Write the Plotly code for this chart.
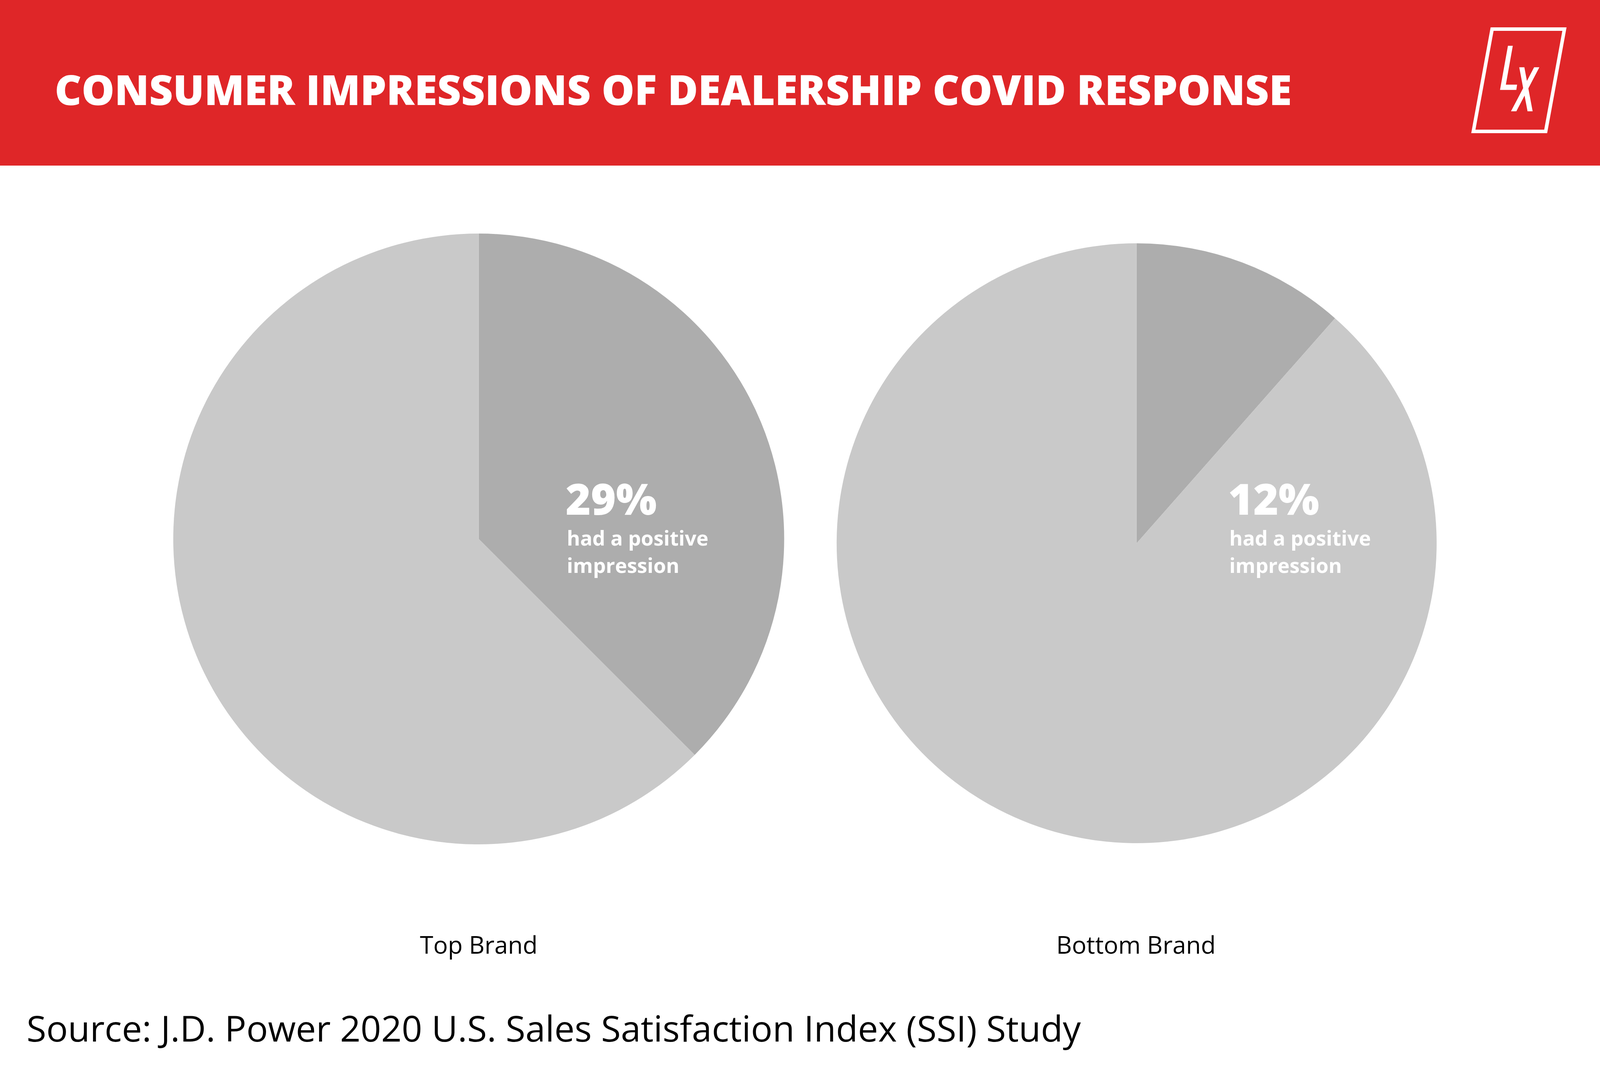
import plotly.graph_objects as go

# reference layout is 5000x2727; the browser viewport is 4096x2727, so the figure fills
# the viewport and every position is given as a fraction of the reference canvas
REF_W, REF_H = 5000, 2727
FIG_W, FIG_H = 4096, 2727

# data
slice_labels = ['Positive impression', 'Other']
top_brand_slices = [37.5, 62.5]      # drawn share of the dark slice (Top Brand)
bottom_brand_slices = [11.5, 88.5]   # drawn share of the dark slice (Bottom Brand)
brand_names = ['Top Brand', 'Bottom Brand']
brand_pcts = ['29%', '12%']

RED = '#DF2628'
DARK_GREY = '#ADADAD'
LIGHT_GREY = '#C9C9C9'
FONT = 'Open Sans'


def px(x, y):
    # reference pixel position -> paper coordinates
    return x / REF_W, 1 - y / REF_H


def pie_domain(cx, cy, r):
    # centre in reference pixels, radius in figure pixels
    fx, fy = px(cx, cy)
    return dict(x=[fx - r / FIG_W, fx + r / FIG_W], y=[fy - r / FIG_H, fy + r / FIG_H])


fig = go.Figure()

fig.add_trace(go.Pie(labels=slice_labels, values=top_brand_slices, sort=False,
                     direction='clockwise', rotation=0, textinfo='none', hoverinfo='skip',
                     marker=dict(colors=[DARK_GREY, LIGHT_GREY], line=dict(width=0)),
                     domain=pie_domain(1496, 1380, 782), showlegend=False))
fig.add_trace(go.Pie(labels=slice_labels, values=bottom_brand_slices, sort=False,
                     direction='clockwise', rotation=0, textinfo='none', hoverinfo='skip',
                     marker=dict(colors=[DARK_GREY, LIGHT_GREY], line=dict(width=0)),
                     domain=pie_domain(3552, 1391, 768), showlegend=False))

shapes = []
# red header band
shapes.append(dict(type='rect', xref='paper', yref='paper', x0=0, x1=1, y0=1 - 424 / REF_H, y1=1,
                   fillcolor=RED, line=dict(width=0), layer='below'))


# LX logo, outline measured on a zoomed crop of the reference
def logo_pt(zx, zy):
    return px(4659 + (zx - 680) * 0.3806, 70 + (zy - 216) * 0.3289)


def poly(points, fill=True, width=0):
    pts = [logo_pt(a, b) for a, b in points]
    path = 'M ' + ' L '.join(f'{x:.5f},{y:.5f}' for x, y in pts) + ' Z'
    d = dict(type='path', xref='paper', yref='paper', path=path)
    if fill:
        d.update(fillcolor='white', line=dict(width=0))
    else:
        d.update(fillcolor='rgba(0,0,0,0)', line=dict(color='white', width=width))
    return d


shapes.append(poly([(690, 230), (1284, 230), (1130, 1026), (536, 1026)], fill=False, width=9))
shapes.append(poly([(820, 360), (860, 360), (803, 662), (895, 662), (889, 703), (755, 703)]))
shapes.append(poly([(913, 527), (955, 527), (1023, 870), (981, 870)]))
shapes.append(poly([(1035, 527), (1078, 527), (889, 870), (845, 870)]))

annotations = []


def note(text, x, y, size, color, anchor='left', weight='normal'):
    ax, ay = px(x, y)
    annotations.append(dict(text=text, x=ax, y=ay, xref='paper', yref='paper', showarrow=False,
                            xanchor=anchor, yanchor='middle',
                            font=dict(family=FONT, size=size, color=color, weight=weight)))


note('CONSUMER IMPRESSIONS OF DEALERSHIP COVID RESPONSE', 168, 228, 106, 'white', weight=800)

for x0, pct in zip([1765, 3835], brand_pcts):
    note(pct, x0, 1275, 110, 'white', weight=800)
    note('had a positive', x0 + 4, 1376, 52, 'white', weight=700)
    note('impression', x0 + 4, 1446, 52, 'white', weight=700)

note(brand_names[0], 1496, 2418, 62, 'black', anchor='center')
note(brand_names[1], 3550, 2418, 62, 'black', anchor='center')

note('Source: J.D. Power 2020 U.S. Sales Satisfaction Index (SSI) Study', 80, 2631, 92, 'black')

fig.update_layout(width=FIG_W, height=FIG_H, margin=dict(l=0, r=0, t=0, b=0),
                  paper_bgcolor='white', plot_bgcolor='white',
                  shapes=shapes, annotations=annotations, showlegend=False)

fig.write_html('out.html', config={'displayModeBar': False},
               post_script="document.body.style.margin='0';")
